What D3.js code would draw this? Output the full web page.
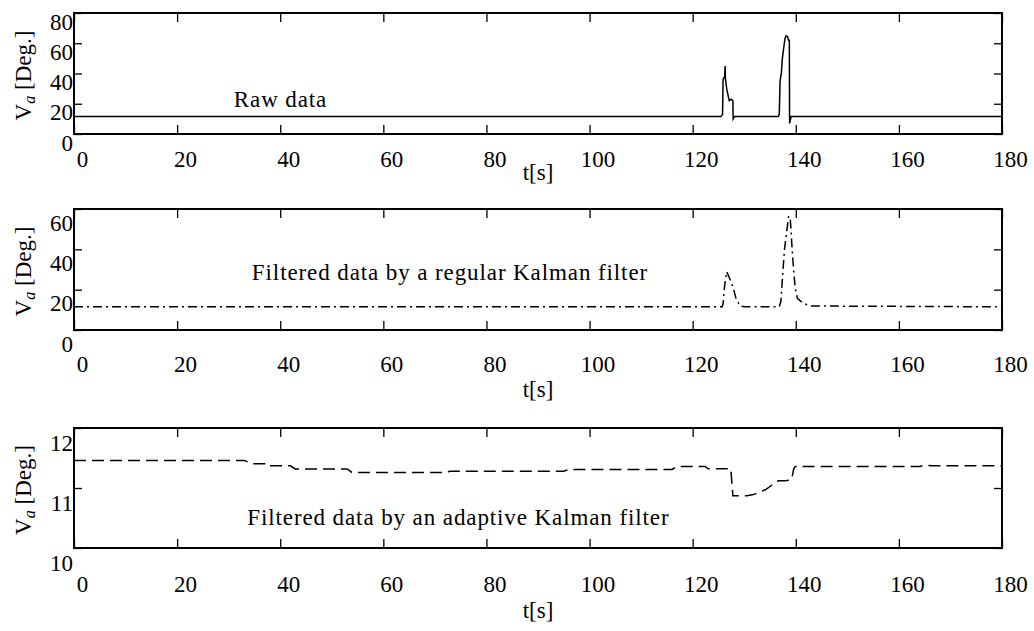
<!DOCTYPE html>
<html><head><meta charset="utf-8">
<script src="https://cdn.jsdelivr.net/npm/d3@7"></script>
<style>
body{margin:0;background:#fff}
svg{display:block}
svg text{font-family:"Liberation Serif","Times New Roman",Times,serif;fill:#000}
</style></head>
<body><svg id="c" width="1034" height="631" font-family="Liberation Serif"></svg>
<script>
// ---- data ----
const xTicks = [0, 20, 40, 60, 80, 100, 120, 140, 160, 180];
const xLabel = "t[s]";
const yLabelMain = "V", yLabelSub = "a", yLabelUnit = " [Deg.]";

const rawT = [0, 125.5, 125.8, 125.9, 126.2, 126.3, 126.35, 126.6, 126.9, 127.1, 127.5, 127.8, 127.85, 128.1,
              136.6, 136.8, 136.95, 137.2, 137.4, 137.7, 137.9, 138.1, 138.4, 138.6, 138.75, 138.8, 139.1, 180];
const rawV = [11.5, 11.5, 13, 36, 38, 45, 37, 30, 25, 22, 23, 22, 10, 11.5,
              11.5, 13, 35, 40, 50, 58, 63, 65, 64.5, 62, 62, 7, 11.5, 11.5];

const kalT = [0, 125.7, 125.9, 126.2, 126.6, 127.3, 127.9, 128.4, 129.2, 130,
              136.8, 137.1, 137.5, 137.8, 138.2, 138.6, 138.9, 139.1, 139.3, 139.6, 139.9, 140.3, 141.5, 142.8, 180];
const kalV = [11.5, 11.5, 13, 22, 28.9, 24.8, 20.7, 15.7, 11.9, 11.5,
              11.5, 14, 28.9, 39.7, 48, 56.2, 56.2, 48.7, 39.7, 28.9, 20.7, 15.7, 13.2, 11.9, 11.5];

const adaT = [0, 33, 34.5, 37.4, 37.6, 42, 42.9, 53, 53.9, 72, 73, 95, 96, 116, 117, 122.4, 123, 127.4, 127.8,
              130.5, 131.8, 134.1, 135.4, 136.6, 138.0, 139.2, 139.6, 139.9, 164, 165, 166.5, 180];
const adaV = [11.46, 11.46, 11.405, 11.405, 11.37, 11.37, 11.317, 11.317, 11.26, 11.26, 11.28, 11.28, 11.31, 11.31,
              11.36, 11.36, 11.32, 11.32, 10.87, 10.87, 10.89, 10.97, 11.05, 11.12, 11.12, 11.14, 11.32, 11.36,
              11.36, 11.38, 11.37, 11.37];

const yTicks1 = [0, 20, 40, 60, 80];
const yTicks2 = [0, 20, 40, 60];
const yTicks3 = [10, 11, 12];
const notes = ["Raw data", "Filtered data by a regular Kalman filter", "Filtered data by an adaptive Kalman filter"];
const noteAt = [[31, 18], [34.5, 24.8], [33.6, 10.39]];

// ---- layout ----
const svg = d3.select("#c");
const L = 74, R = 1002;
const FONT = '"Liberation Serif","Times New Roman",Times,serif';
const panels = [
  {top: 13, bottom: 134, T: rawT, V: rawV, yt: yTicks1, dom: [0, 80], dash: null,
   xlab: 33, tlab: 180, ylOff: 16, note: 0},
  {top: 209, bottom: 330, T: kalT, V: kalV, yt: yTicks2, dom: [0, 60], dash: "9,4,2,4",
   xlab: 42, tlab: 397, ylOff: 21, note: 1},
  {top: 428, bottom: 548, T: adaT, V: adaV, yt: yTicks3, dom: [10, 12], dash: "12,6",
   xlab: 44, tlab: 618, ylOff: 22, note: 2}
];
const x = d3.scaleLinear().domain([0, 180]).range([L, R]);
const FS = 23;

function styleAxis(g) {
  g.attr("font-family", FONT).attr("font-size", FS);
  g.select(".domain").remove();
  g.selectAll("line").attr("stroke", "#000").attr("stroke-width", 1.3);
  g.selectAll("text").attr("fill", "#000").style("font-family", FONT).style("font-size", FS + "px");
}

panels.forEach(p => {
  const y = d3.scaleLinear().domain(p.dom).range([p.bottom, p.top]);
  const g = svg.append("g");

  const gb = g.append("g").attr("transform", `translate(0,${p.bottom})`)
    .call(d3.axisBottom(x).tickValues(xTicks).tickSize(-9).tickFormat(d3.format("d")));
  styleAxis(gb);
  gb.selectAll("text").attr("y", p.xlab).attr("dy", 0).attr("dx", 8);

  const gt = g.append("g").attr("transform", `translate(0,${p.top})`)
    .call(d3.axisTop(x).tickValues(xTicks).tickSize(-9).tickFormat(""));
  styleAxis(gt);

  const gl = g.append("g").attr("transform", `translate(${L},0)`)
    .call(d3.axisLeft(y).tickValues(p.yt).tickSize(-8).tickFormat(d3.format("d")));
  styleAxis(gl);
  gl.selectAll("text").attr("x", -1).attr("dy", 0)
    .attr("transform", `translate(0,${p.ylOff})`);

  const gr = g.append("g").attr("transform", `translate(${R},0)`)
    .call(d3.axisRight(y).tickValues(p.yt).tickSize(-8).tickFormat(""));
  styleAxis(gr);

  const line = d3.line().x(d => x(d[0])).y(d => y(d[1]));
  g.append("path").datum(p.T.map((t, i) => [t, p.V[i]]))
    .attr("d", line).attr("fill", "none").attr("stroke", "#000")
    .attr("stroke-width", 1.5)
    .attr("stroke-dasharray", p.dash);

  g.append("rect").attr("x", L).attr("y", p.top).attr("width", R - L).attr("height", p.bottom - p.top)
    .attr("fill", "none").attr("stroke", "#000").attr("stroke-width", 2);

  const na = noteAt[p.note];
  g.append("text").attr("x", x(na[0])).attr("y", y(na[1]))
    .style("font-family", FONT).style("font-size", FS + "px").style("letter-spacing", "0.9px")
    .text(notes[p.note]);

  g.append("text").attr("x", (L + R) / 2).attr("y", p.tlab).attr("text-anchor", "middle")
    .style("font-family", FONT).style("font-size", FS + "px").text(xLabel);

  const yl = g.append("text").attr("transform", `translate(31,${(p.top + p.bottom) / 2 + 2}) rotate(-90)`)
    .attr("text-anchor", "middle").style("font-family", FONT).style("font-size", FS + "px");
  yl.append("tspan").text(yLabelMain);
  yl.append("tspan").style("font-style", "italic").style("font-size", "16px").attr("dy", 4).text(yLabelSub);
  yl.append("tspan").attr("dy", -4).text(yLabelUnit);
});
</script></body></html>
